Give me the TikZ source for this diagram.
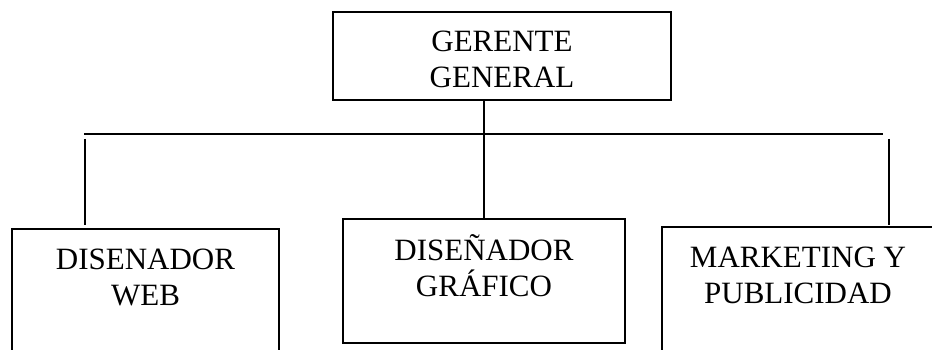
\documentclass[tikz,border=0pt]{standalone}
\usepackage{fontspec}
\setmainfont{Liberation Serif}
\begin{document}
\begin{tikzpicture}[x=1pt,y=-1pt,
  orgbox/.style={draw=black, line width=2pt, inner sep=0pt, outer sep=0pt, anchor=north west, fill=none},
  orgtext/.style={anchor=base, align=center, inner sep=0pt, font=\fontsize{31}{36}\selectfont},
  conn/.style={draw=black, line width=2pt}]
\useasboundingbox (0,0) rectangle (932,350);
\clip (0,0) rectangle (932,350);
\fill[white] (0,0) rectangle (932,350);
% boxes
\node[orgbox, minimum width=338pt, minimum height=87.5pt] (top) at (333,12.5) {};
\node[orgbox, minimum width=267pt, minimum height=180pt] (web) at (12,229) {};
\node[orgbox, minimum width=282pt, minimum height=124pt] (graf) at (343,219) {};
\node[orgbox, minimum width=330pt, minimum height=180pt] (mkt) at (662,227) {};
% texts (anchor base = baseline of last line)
\node[orgtext] (ttop) at (502,87.5) {GERENTE\\GENERAL};
\node[orgtext] (tweb) at (145.5,305.5) {DISENADOR\\WEB};
\node[orgtext] (tgraf) at (484,296) {DISEÑADOR\\GRÁFICO};
\node[orgtext] (tmkt) at (798,303.5) {MARKETING Y\\PUBLICIDAD};
% connector coordinates
\coordinate (hl) at (84,134);
\coordinate (hr) at (883,134);
\coordinate (wtop) at (85,139);
\coordinate (wbot) at (85,225);
\coordinate (mtop) at (889,139);
\coordinate (mbot) at (889,225);
% connectors
\draw[conn] (hl) -- (hr);
\draw[conn] (top.south -| graf.north) -- (graf.north);
\draw[conn] (wtop) -- (wbot);
\draw[conn] (mtop) -- (mbot);
\end{tikzpicture}
\end{document}
